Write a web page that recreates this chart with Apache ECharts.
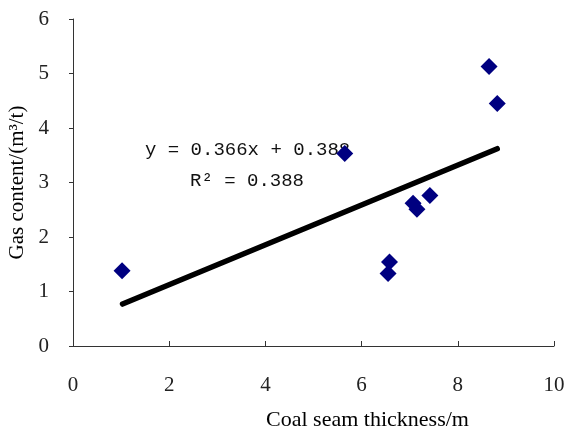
<!DOCTYPE html>
<html style="height: 100%">
<head>
    <meta charset="utf-8">
    <script type="text/javascript" src="https://cdn.jsdelivr.net/npm/echarts@6/dist/echarts.min.js"></script>
</head>
<body style="height: 100%; margin: 0">
<div id="container" style="width: 570px; height: 428px"></div>
<script type="text/javascript">
    // measured points (coal seam thickness m, gas content m3/t)
    var thickness = [1.02, 5.65, 8.65, 8.82, 7.42, 7.07, 7.15, 6.58, 6.55];
    var gasContent = [1.38, 3.53, 5.13, 4.45, 2.76, 2.62, 2.51, 1.54, 1.33];
    // linear trend line end points
    var trendX = [1.03, 8.82];
    var trendY = [0.77, 3.62];
    var xTicks = [0, 2, 4, 6, 8, 10];
    var yTicks = [0, 1, 2, 3, 4, 5, 6];
    var equation = 'y = 0.366x + 0.388';
    var rSquared = 'R\u00b2 = 0.388';

    var points = thickness.map(function (x, i) { return [x, gasContent[i]]; });
    var trend = trendX.map(function (x, i) { return [x, trendY[i]]; });

    var fontFamily = '"Liberation Serif", "DejaVu Serif", serif';
    var monoFamily = '"Liberation Mono", "DejaVu Sans Mono", monospace';
    var dom = document.getElementById("container");
    var myChart = echarts.init(dom);
    var option = {
        animation: false,
        backgroundColor: '#fff',
        grid: {left: 73, right: 16, top: 19, bottom: 82, containLabel: false, outerBoundsMode: 'none'},
        xAxis: {
            type: 'value',
            min: xTicks[0],
            max: xTicks[xTicks.length - 1],
            interval: 2,
            name: 'Coal seam thickness/m',
            nameLocation: 'middle',
            nameGap: 63,
            nameTextStyle: {color: '#000', fontSize: 22, fontFamily: fontFamily, padding: [0, 0, 0, 108]},
            axisLine: {lineStyle: {color: '#333', width: 1}},
            axisTick: {inside: true, length: 5, lineStyle: {color: '#333'}},
            axisLabel: {margin: 29, color: '#222', fontSize: 21, fontFamily: fontFamily},
            splitLine: {show: false}
        },
        yAxis: {
            type: 'value',
            min: yTicks[0],
            max: yTicks[yTicks.length - 1],
            interval: 1,
            name: 'Gas content/(m\u00b3/t)',
            nameLocation: 'middle',
            nameGap: 40,
            nameTextStyle: {color: '#000', fontSize: 21, fontFamily: fontFamily},
            axisLine: {show: true, lineStyle: {color: '#333', width: 1}},
            axisTick: {show: true, length: 4, lineStyle: {color: '#333'}},
            axisLabel: {margin: 24, color: '#222', fontSize: 21, fontFamily: fontFamily},
            splitLine: {show: false}
        },
        graphic: [
            {type: 'text', left: 145, top: 140, style: {text: equation, fontSize: 19, fontFamily: monoFamily, fill: '#111'}},
            {type: 'text', left: 190, top: 171, style: {text: rSquared, fontSize: 19, fontFamily: monoFamily, fill: '#111'}}
        ],
        series: [
            {
                type: 'line',
                data: trend,
                symbol: 'none',
                lineStyle: {color: '#000', width: 5.5, cap: 'round'},
                z: 2
            },
            {
                type: 'scatter',
                data: points,
                symbol: 'diamond',
                symbolSize: [17, 17],
                itemStyle: {color: '#000080', opacity: 1},
                z: 3
            }
        ]
    };
    myChart.setOption(option, true);
</script>
</body>
</html>
